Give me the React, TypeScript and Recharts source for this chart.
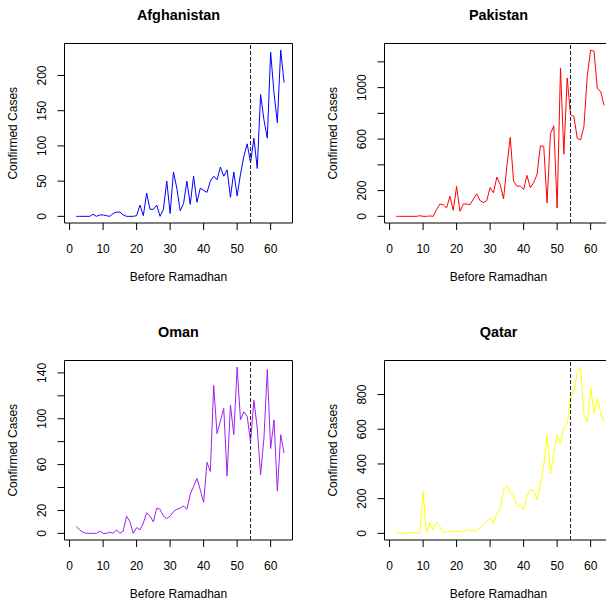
import { LineChart, Line, XAxis, YAxis, ReferenceLine, ReferenceArea } from 'recharts';

// days before Ramadhan (x axis)
const days = [
  2, 3, 4, 5, 6, 7, 8, 9, 10, 11, 12, 13, 14, 15, 16, 17, 18, 19, 20, 21,
  22, 23, 24, 25, 26, 27, 28, 29, 30, 31, 32, 33, 34, 35, 36, 37, 38, 39, 40, 41,
  42, 43, 44, 45, 46, 47, 48, 49, 50, 51, 52, 53, 54, 55, 56, 57, 58, 59, 60, 61,
  62, 63, 64,
];

const afghanistan = [
  0, 0, 0, 0, 0, 3, 0, 2, 2, 1, 0, 4, 6, 6, 2, 0, 0, 0, 1,
  16, 1, 33, 10, 10, 16, 0, 10, 50, 4,
  63, 40, 8, 18, 50, 17, 57, 20, 40, 37,
  34, 50, 57, 52, 70, 57, 66, 27, 63, 29,
  60, 85, 103, 76, 111, 68, 173, 137, 111, 233,
  175, 133, 236, 190,
];

const pakistan = [
  0, 0, 0, 0, 0, 0, 0, 5, 0, 0, 3, 0,
  52, 96, 90, 65, 156, 47, 232, 39, 96, 96,
  91, 135, 175, 122, 107, 122, 224, 182, 305, 248,
  135, 391, 613, 274, 235, 235, 209, 318, 222, 261,
  326, 548, 543, 104, 639, 704, 65, 1153, 483, 1075,
  788, 777, 605, 595, 699, 1096, 1291, 1283, 991, 970, 861,
];

const oman = [
  6, 3, 1, 0, 0, 0, 0, 2, 0, 0, 1, 0, 3, 0, 2,
  15, 10, 0, 5, 3, 9, 18, 15, 10, 22,
  21, 15, 13, 15, 19, 21, 22, 24, 21, 34,
  41, 48, 38, 27, 62, 54, 129, 87, 98, 109,
  50, 112, 86, 145, 99, 106, 102, 80, 116, 92,
  51, 83, 143, 74, 99, 37, 86, 70,
];

const qatar = [
  8, 0, 0, 0, 0, 8, 0, 5, 242, 2, 60, 21, 65, 40, 2,
  12, 8, 12, 12, 12, 6, 21, 15, 15, 15,
  31, 50, 65, 88, 56, 117, 137, 252, 277, 233,
  219, 156, 162, 137, 213, 252, 248, 194, 281, 396,
  565, 342, 463, 569, 517, 612, 627, 777, 829, 925,
  958, 685, 642, 842, 694, 777, 694, 642,
];

const xTicks = [0, 10, 20, 30, 40, 50, 60];
const ramadhanDay = 54;

const FONT = '"Liberation Sans", Arial, sans-serif';
const PW = 320;
const PH = 318;
const X_DOMAIN = [-1.52, 66.52];

const XTick = ({ x, y, payload }: any) => (
  <text x={x} y={y + 18.5} dy="0.36em" textAnchor="middle" fontSize={12} fill="#000" fontFamily={FONT}>
    {payload.value}
  </text>
);

const makeYTick = (shown: number[]) => ({ x, y, payload }: any) => {
  if (!shown.includes(payload.value)) return <g />;
  const tx = x - 11.2;
  return (
    <text x={tx} y={y} transform={`rotate(-90, ${tx}, ${y})`} textAnchor="middle" fontSize={12} fill="#000" fontFamily={FONT}>
      {payload.value}
    </text>
  );
};

function Panel({ title, values, color, yTicks, yShown, left, top }: any) {
  const data = days.map((d, i) => ({ day: d, cases: values[i] }));
  const max = Math.max(...values);
  const min = Math.min(...values);
  const pad = (max - min) * 0.04;
  const yDomain = [min - pad, max + pad];

  return (
    <div style={{ position: 'absolute', left, top, width: PW, height: PH }}>
      <LineChart width={PW} height={PH} data={data} margin={{ top: 43.5, right: 27.5, left: 0.5, bottom: 0 }}>
        <XAxis
          dataKey="day"
          type="number"
          domain={X_DOMAIN}
          ticks={xTicks}
          interval={0}
          allowDataOverflow
          axisLine={false}
          tickLine={{ stroke: '#000' }}
          tickSize={7}
          tickMargin={0}
          tick={<XTick />}
          height={95}
          label={(p: any) => {
            const vb = p.viewBox;
            return (
              <text x={vb.x + vb.width / 2} y={vb.y + 58} textAnchor="middle" fontSize={12} fill="#000" fontFamily={FONT}>
                Before Ramadhan
              </text>
            );
          }}
        />
        <YAxis
          type="number"
          domain={yDomain}
          ticks={yTicks}
          interval={0}
          allowDataOverflow
          axisLine={false}
          tickLine={{ stroke: '#000' }}
          tickSize={7}
          tickMargin={0}
          tick={makeYTick(yShown)}
          width={64}
          label={(p: any) => {
            const vb = p.viewBox;
            const cy = vb.y + vb.height / 2;
            return (
              <text x={17} y={cy} transform={`rotate(-90, 17, ${cy})`} textAnchor="middle" fontSize={12} fill="#000" fontFamily={FONT}>
                Confirmed Cases
              </text>
            );
          }}
        />
        <ReferenceArea x1={X_DOMAIN[0]} x2={X_DOMAIN[1]} y1={yDomain[0]} y2={yDomain[1]} fill="none" stroke="#000" strokeWidth={1} />
        <Line type="linear" dataKey="cases" stroke={color} strokeWidth={1} dot={false} isAnimationActive={false} />
        <ReferenceLine x={ramadhanDay} stroke="#222" strokeDasharray="4 2" />
        <text x={64.5 + 114} y={19.5} textAnchor="middle" fontSize={14.4} fontWeight="bold" fill="#000" fontFamily={FONT}>
          {title}
        </text>
      </LineChart>
    </div>
  );
}

export default function App() {
  return (
    <div style={{ position: 'absolute', left: 0, top: 0, width: 606, height: 601, overflow: 'hidden', background: '#fff' }}>
      <Panel title="Afghanistan" values={afghanistan} color="#0000FF" yTicks={[0, 50, 100, 150, 200]} yShown={[0, 50, 100, 150, 200]} left={0} top={0} />
      <Panel title="Pakistan" values={pakistan} color="#FF0000" yTicks={[0, 200, 400, 600, 800, 1000, 1200]} yShown={[0, 200, 600, 1000]} left={320} top={0} />
      <Panel title="Oman" values={oman} color="#A020F0" yTicks={[0, 20, 40, 60, 80, 100, 120, 140]} yShown={[0, 20, 60, 100, 140]} left={0} top={317} />
      <Panel title="Qatar" values={qatar} color="#FFFF00" yTicks={[0, 200, 400, 600, 800]} yShown={[0, 200, 400, 600, 800]} left={320} top={317} />
    </div>
  );
}
